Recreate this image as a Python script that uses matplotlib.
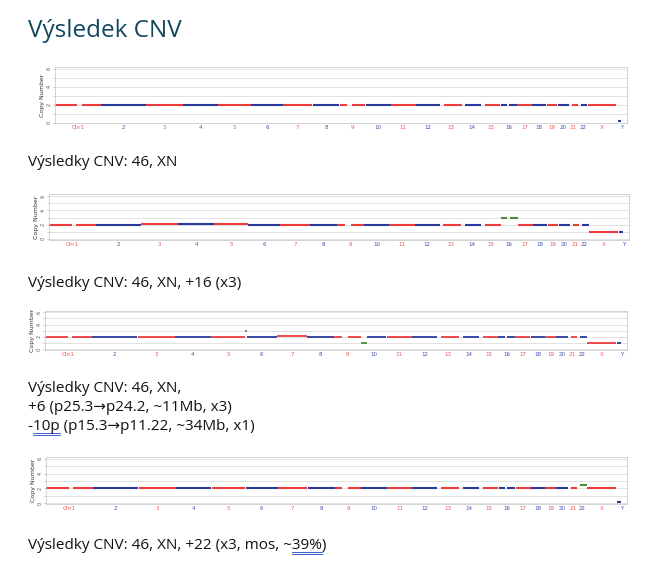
import matplotlib
matplotlib.use("Agg")
import matplotlib.pyplot as plt
import numpy as np

# chromosome layout (Mb, hg19-ish)
chrom_labels = ["Chr1", "2", "3", "4", "5", "6", "7", "8", "9", "10", "11", "12",
                "13", "14", "15", "16", "17", "18", "19", "20", "21", "22", "X", "Y"]
chrom_len = [249, 243, 198, 191, 181, 171, 159, 146, 141, 136, 135, 134,
             115, 107, 103, 90, 81, 78, 59, 63, 48, 51, 155, 59]
# regions without probes (centromere / acrocentric p-arms / Y heterochromatin)
gap_start = [121, 0, 0, 0, 0, 0, 0, 0, 39, 0, 0, 0, 0, 0, 0, 35, 0, 0, 0, 0, 0, 0, 0, 28]
gap_end = [144, 0, 0, 0, 0, 0, 0, 0, 70, 0, 0, 0, 19, 20, 20, 47, 0, 0, 0, 0, 15, 17, 0, 59]

# copy number per chromosome for each sample
cn_1 = [2, 2, 2, 2, 2, 2, 2, 2, 2, 2, 2, 2, 2, 2, 2, 2, 2, 2, 2, 2, 2, 2, 2, 0.2]
cn_2 = [2, 2, 2.05, 2.05, 2.05, 2, 2, 2, 2, 2, 2, 2, 2, 2, 2, 3, 2, 2, 2, 2, 2, 2, 1, 1]
cn_3 = [2, 2, 2, 2, 2, 2, 2.15, 2, 2, 2, 2, 2, 2, 2, 2, 2, 2, 2, 2, 2, 2, 2, 1, 1]
cn_4 = [2, 2, 2, 2, 2, 2, 2, 2, 2, 2, 2, 2, 2, 2, 2, 2, 2, 2, 2, 2, 2, 2.4, 2, 0.2]

# abnormal segments (chrom index, start Mb, end Mb, copy number)
abn_3 = [(5, 0, 11, 3.0), (9, 0, 34, 1.0)]
abn_4 = []

red = "#EE3B3B"
blue = "#2B3A9A"
green = "#4E8B3A"
lab_red = "#F05555"
lab_blue = "#3F4FAE"

offsets = np.concatenate([[0], np.cumsum(chrom_len)[:-1]])
genome_len = sum(chrom_len)

W, H = 667, 577
fig = plt.figure(figsize=(W / 100, H / 100), dpi=100)


def add_panel(left, right, top, bottom, ylo, yhi, cn, abn, green_chr=None, lw=1.5):
    ax = fig.add_axes([left / W, 1 - bottom / H, (right - left) / W, (bottom - top) / H])
    for i, L in enumerate(chrom_len):
        col = red if i % 2 == 0 else blue
        if green_chr == i:
            col = green
        pieces = [(0.5, L - 0.5)]
        if gap_end[i] > 0:
            pieces = []
            if gap_start[i] > 0:
                pieces.append((0.5, gap_start[i]))
            if gap_end[i] < L:
                pieces.append((gap_end[i], L - 0.5))
            if i == 23:
                pieces = [(8, gap_start[i])]
        for s, e in pieces:
            segs = [(s, e, cn[i], col)]
            for (ci, a, b, v) in abn:
                if ci == i:
                    segs = []
                    if a > s:
                        segs.append((s, a, cn[i], col))
                    segs.append((max(a, s), min(b, e), v, green))
                    if b < e:
                        segs.append((b, e, cn[i], col))
            for a, b, v, c in segs:
                ax.plot([offsets[i] + a, offsets[i] + b], [v, v], color=c, lw=lw,
                        solid_capstyle="butt")
    ax.set_xlim(0, genome_len)
    ax.set_ylim(ylo, yhi)
    ax.set_yticks([0, 1, 2, 3, 4, 5, 6])
    ax.set_yticklabels(["0", "", "2", "", "4", "", "6"], rotation=90, va="center")
    ax.tick_params(axis="y", labelsize=3.5, length=1.5, width=0.4, color="#999999",
                   labelcolor="#555555", pad=1)
    ax.grid(axis="y", color="#DDDDDD", lw=0.6)
    ax.set_axisbelow(True)
    ax.set_xticks(offsets + np.array(chrom_len) / 2)
    ax.set_xticklabels(chrom_labels)
    ax.tick_params(axis="x", labelsize=4, length=0, pad=1.5)
    for k, t in enumerate(ax.get_xticklabels()):
        t.set_color(lab_red if k % 2 == 0 else lab_blue)
    for s in ax.spines.values():
        s.set_color("#CCCCCC")
        s.set_linewidth(0.6)
    ax.set_ylabel("Copy Number", fontsize=4.5, color="#333333", labelpad=1)
    return ax


add_panel(55, 627, 67, 123, -0.05, 6.2, cn_1, [])
add_panel(49, 629, 194, 240, -0.15, 6.3, cn_2, [], green_chr=15)
add_panel(45, 627, 311, 350, -0.15, 6.2, cn_3, abn_3, lw=1.3)
add_panel(46, 627, 457, 504, -0.1, 6.25, cn_4, abn_4, green_chr=21)

font = ["Open Sans", "DejaVu Sans"]
title_col = "#13475F"
fig.text(28 / W, 1 - 37 / H, "Výsledek CNV", fontsize=17.5, color=title_col,
         family=font, va="baseline")

body = dict(fontsize=11, color="#111111", family=font, va="baseline")
fig.text(28 / W, 1 - 166 / H, "Výsledky CNV: 46, XN", **body)
fig.text(28 / W, 1 - 287 / H, "Výsledky CNV: 46, XN, +16 (x3)", **body)
fig.text(28 / W, 1 - 392 / H, "Výsledky CNV: 46, XN,", **body)
fig.text(28 / W, 1 - 411 / H, "+6 (p25.3\u2192p24.2, ~11Mb, x3)", **body)
fig.text(28 / W, 1 - 430 / H, "-10p (p15.3\u2192p11.22, ~34Mb, x1)", **body)
fig.text(28 / W, 1 - 549 / H, "Výsledky CNV: 46, XN, +22 (x3, mos, ~39%)", **body)

# proofing underlines (double blue)
renderer = fig.canvas.get_renderer()


def text_w(s):
    t = fig.text(0, 0, s, **body)
    w = t.get_window_extent(renderer).width
    t.remove()
    return w


def underline(prefix, word, base_y):
    x0 = 28 + text_w(prefix)
    x1 = 28 + text_w(prefix + word)
    for dy in (2.5, 4.5):
        y = 1 - (base_y + dy) / H
        fig.add_artist(plt.Line2D([x0 / W, x1 / W], [y, y], color="#3A63C8", lw=0.7))


underline("-", "10p", 430)
underline("Výsledky CNV: 46, XN, +22 (x3, mos, ~", "39%", 549)

fig.savefig("out.png", dpi=100, facecolor="white")
